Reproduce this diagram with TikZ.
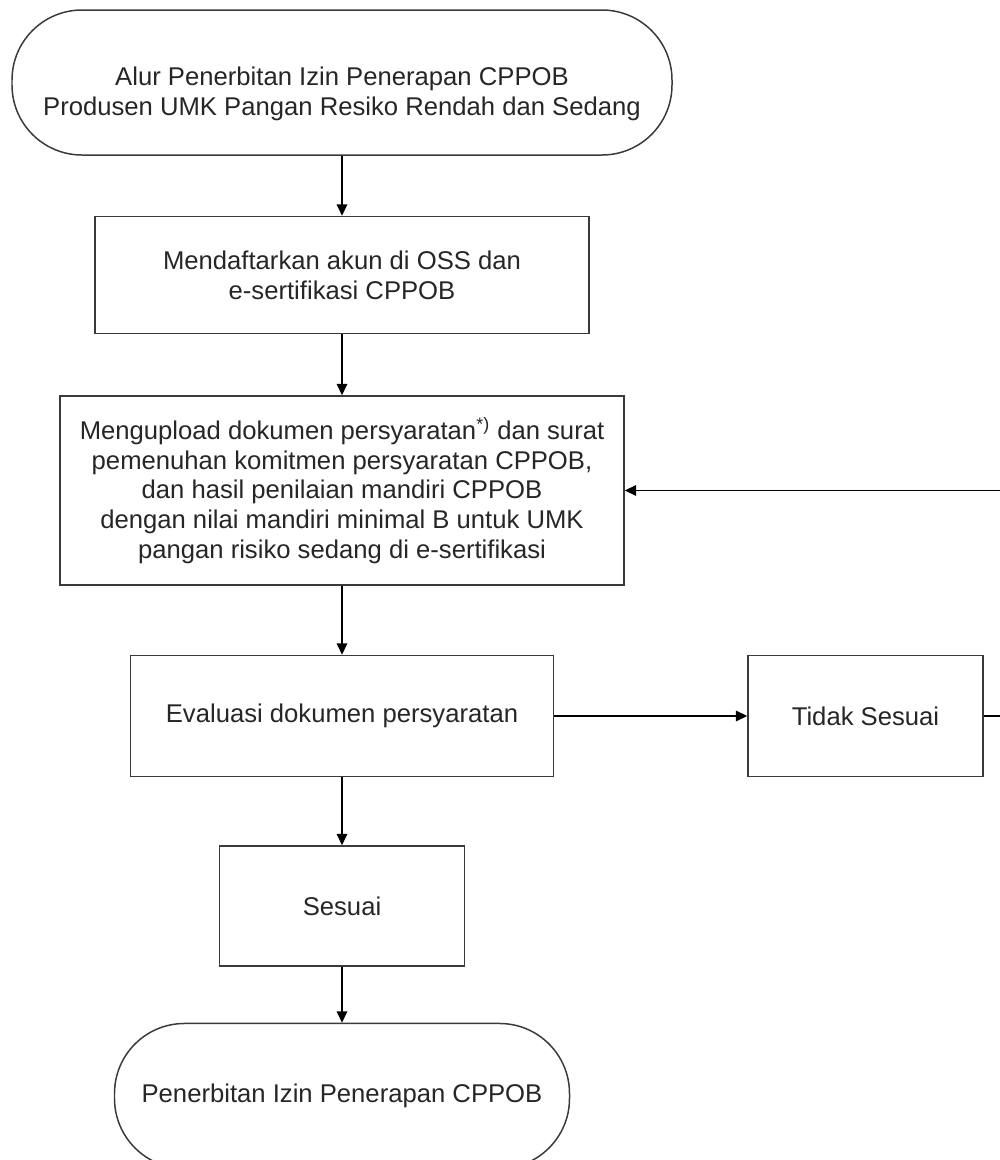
\documentclass[tikz,border=0pt]{standalone}
\usepackage{fontspec}
\setmainfont{Liberation Sans}
\usetikzlibrary{positioning,arrows.meta}
\definecolor{LineGrey}{HTML}{3A3A3A}
\definecolor{TextGrey}{HTML}{262626}

\begin{document}
\begin{tikzpicture}[>={Triangle[length=6.5pt,width=6pt]}, line width=0.85pt,
                    every node/.style={draw=LineGrey, align=center, text=TextGrey, inner sep=0pt,
                                       font=\fontsize{14.6pt}{17pt}\selectfont},
                    proc/.style={minimum height=2.4cm},
                    term/.style={rounded corners=1.4cm, minimum height=2.9cm}]
\path[use as bounding box, clip] (0,0) rectangle (20,-23.2);
\node[term, minimum width=13.2cm] (start) at (6.84,-1.65)
  {\rule{0pt}{24pt}Alur Penerbitan Izin Penerapan CPPOB\\Produsen UMK Pangan Resiko Rendah dan Sedang};
\node[proc, minimum width=9.88cm, minimum height=2.34cm, below=1.2cm of start] (akun)
  {Mendaftarkan akun di OSS dan\\e-sertifikasi CPPOB};
\node[proc, minimum width=11.28cm, minimum height=3.78cm, below=1.22cm of akun] (upload)
  {Mengupload dokumen persyaratan\textsuperscript{*)} dan surat\\
   pemenuhan komitmen persyaratan CPPOB,\\
   dan hasil penilaian mandiri CPPOB\\
   dengan nilai mandiri minimal B untuk UMK\\
   pangan risiko sedang di e-sertifikasi};
\node[proc, minimum width=8.46cm, minimum height=2.42cm, below=1.38cm of upload] (evaluasi)
  {Evaluasi dokumen persyaratan};
\node[proc, minimum width=4.7cm, minimum height=2.42cm, right=3.86cm of evaluasi] (tidak)
  {Tidak Sesuai};
\node[proc, minimum width=4.9cm, below=1.36cm of evaluasi] (sesuai) {Sesuai};
\node[term, minimum width=9.1cm, below=1.12cm of sesuai] (izin)
  {Penerbitan Izin Penerapan CPPOB};
\draw[->] (start) -- (akun);
\draw[->] (akun) -- (upload);
\draw[->] (upload) -- (evaluasi);
\draw[->] (evaluasi) -- (tidak);
\draw[->] (tidak.east) -- ++(0.8,0) |- (upload.east);
\draw[->] (evaluasi) -- (sesuai);
\draw[->] (sesuai) -- (izin);
\end{tikzpicture}
\end{document}
